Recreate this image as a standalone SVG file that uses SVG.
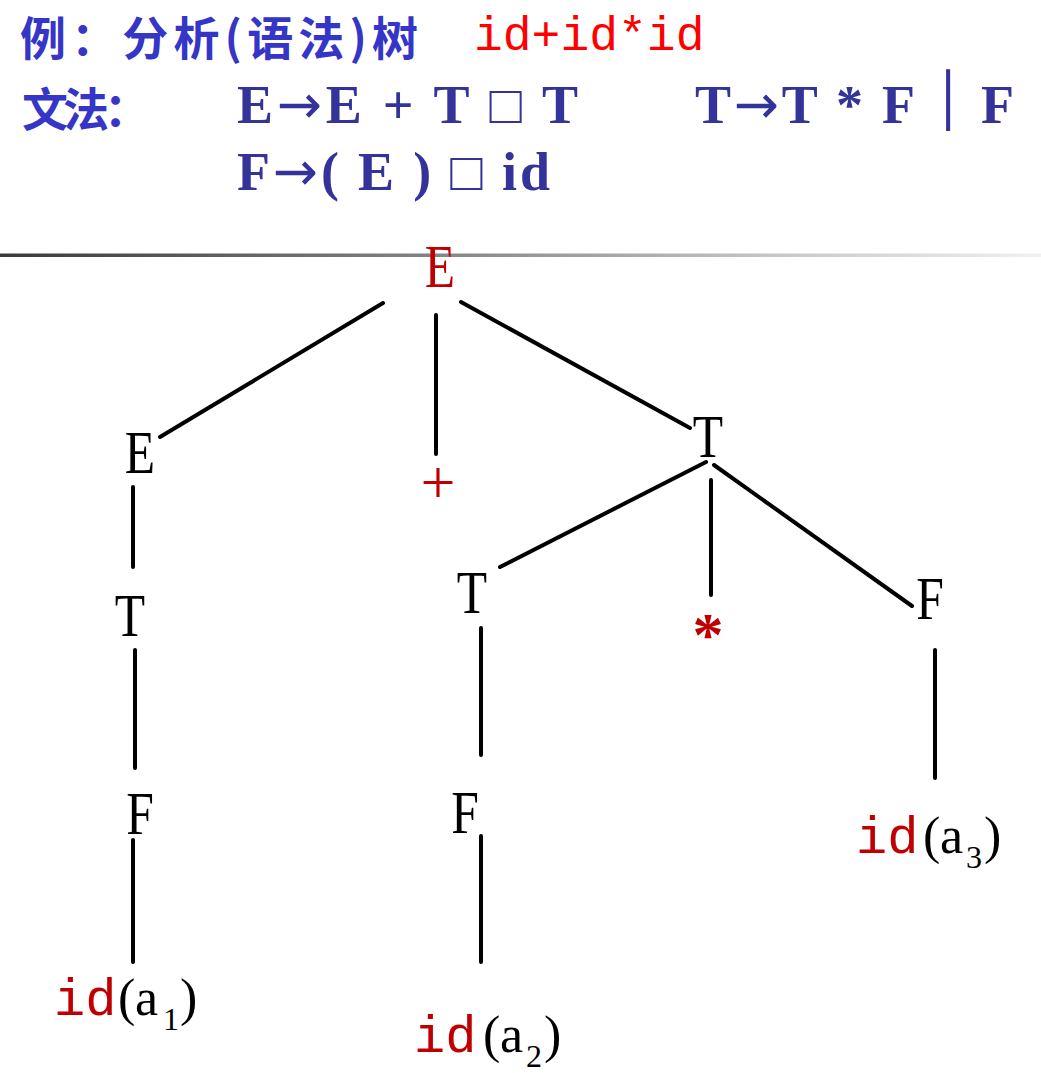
<svg xmlns="http://www.w3.org/2000/svg" width="1041" height="1073" viewBox="0 0 1041 1073">
<defs>
<linearGradient id="rule" x1="0" x2="1" y1="0" y2="0">
<stop offset="0" stop-color="#3a3a3a"/>
<stop offset="0.45" stop-color="#8a8a8a"/>
<stop offset="0.75" stop-color="#c8c8c8"/>
<stop offset="1" stop-color="#f0f0f0"/>
</linearGradient>
<style>
.cn{font-family:"Noto Sans CJK SC",sans-serif;font-weight:700;font-size:46px;fill:#3535c8}
.expr{font-family:"Liberation Mono",monospace;font-size:48px;fill:#ff0000}
.gr{font-family:"Liberation Serif",serif;font-weight:700;font-size:54px;fill:#333399}
.arr{font-family:"DejaVu Sans",sans-serif;font-weight:400}
.bar{font-family:"DejaVu Sans Mono",monospace;font-size:52px;fill:#333399;text-anchor:middle}
.lbl{font-family:"Liberation Serif",serif;font-size:62px;fill:#000;text-anchor:middle}
.red{fill:#c00000}
.id{font-family:"Liberation Mono",monospace;font-size:52px;fill:#c00000}
.par{font-family:"Liberation Serif",serif;font-size:52px;fill:#000}
.sub{font-family:"Liberation Serif",serif;font-size:32px;fill:#000}
.edge{stroke:#000;stroke-width:4;stroke-linecap:round;fill:none}
</style>
</defs>
<rect width="1041" height="1073" fill="#fff"/>

<g id="header">
<text class="cn" x="20" y="55" textLength="398" lengthAdjust="spacing">例：分析(语法)树</text>
<text class="expr" x="474" y="50">id+id*id</text>
<text class="cn" x="22" y="126" textLength="128" lengthAdjust="spacing">文法：</text>
<text class="gr" x="237" y="123" textLength="341" lengthAdjust="spacing">E<tspan class="arr">→</tspan>E + T □ T</text>
<text class="gr" x="695" y="123" textLength="220" lengthAdjust="spacing">T<tspan class="arr">→</tspan>T * F</text>
<text class="bar" x="948" y="118">│</text>
<text class="gr" x="981" y="123">F</text>
<text class="gr" x="237" y="190" textLength="313" lengthAdjust="spacing">F<tspan class="arr">→</tspan>( E ) □ id</text>
</g>

<rect id="rule-line" x="0" y="253.5" width="1041" height="3.5" fill="url(#rule)"/>

<g id="connectors">
<line class="edge" x1="383" y1="303" x2="160" y2="437"/>
<line class="edge" x1="436" y1="315" x2="436" y2="454"/>
<line class="edge" x1="461" y1="302" x2="690" y2="428"/>
<line class="edge" x1="133" y1="487" x2="133" y2="567"/>
<line class="edge" x1="135" y1="650" x2="135" y2="768"/>
<line class="edge" x1="133" y1="840" x2="133" y2="962"/>
<line class="edge" x1="706" y1="462" x2="500" y2="567"/>
<line class="edge" x1="711" y1="480" x2="711" y2="595"/>
<line class="edge" x1="714" y1="465" x2="912" y2="606"/>
<line class="edge" x1="481" y1="628" x2="481" y2="755"/>
<line class="edge" x1="481" y1="836" x2="481" y2="962"/>
<line class="edge" x1="935" y1="650" x2="935" y2="778"/>
</g>

<g id="n-root"><text class="lbl red" font-size="76" transform="translate(440,287) scale(0.8,1)">E</text></g>
<g id="n-E"><text class="lbl" transform="translate(140,473) scale(0.8,1)">E</text></g>
<g id="n-plus"><text class="lbl red" font-size="54" transform="translate(438,503)">+</text></g>
<g id="n-T"><text class="lbl" transform="translate(708,457) scale(0.8,1)">T</text></g>
<g id="n-E-T"><text class="lbl" transform="translate(130,636) scale(0.8,1)">T</text></g>
<g id="n-E-T-F"><text class="lbl" transform="translate(140,834) scale(0.8,1)">F</text></g>
<g id="n-T-T"><text class="lbl" transform="translate(472,613) scale(0.8,1)">T</text></g>
<g id="n-star"><text class="lbl red" font-size="84" font-weight="700" transform="translate(708,655)">*</text></g>
<g id="n-T-F"><text class="lbl" transform="translate(930,619) scale(0.8,1)">F</text></g>
<g id="n-T-T-F"><text class="lbl" transform="translate(465,833) scale(0.8,1)">F</text></g>

<g id="n-id1"><text y="1015"><tspan class="id" x="54">id</tspan><tspan class="par" x="118">(</tspan><tspan class="par" x="135">a</tspan><tspan class="sub" x="163" y="1030">1</tspan><tspan class="par" x="180" y="1015">)</tspan></text></g>
<g id="n-id2"><text y="1052"><tspan class="id" x="414">id</tspan><tspan class="par" x="483">(</tspan><tspan class="par" x="500">a</tspan><tspan class="sub" x="526" y="1067">2</tspan><tspan class="par" x="544" y="1052">)</tspan></text></g>
<g id="n-id3"><text y="853"><tspan class="id" x="856">id</tspan><tspan class="par" x="923">(</tspan><tspan class="par" x="940">a</tspan><tspan class="sub" x="966" y="868">3</tspan><tspan class="par" x="984" y="853">)</tspan></text></g>
</svg>
